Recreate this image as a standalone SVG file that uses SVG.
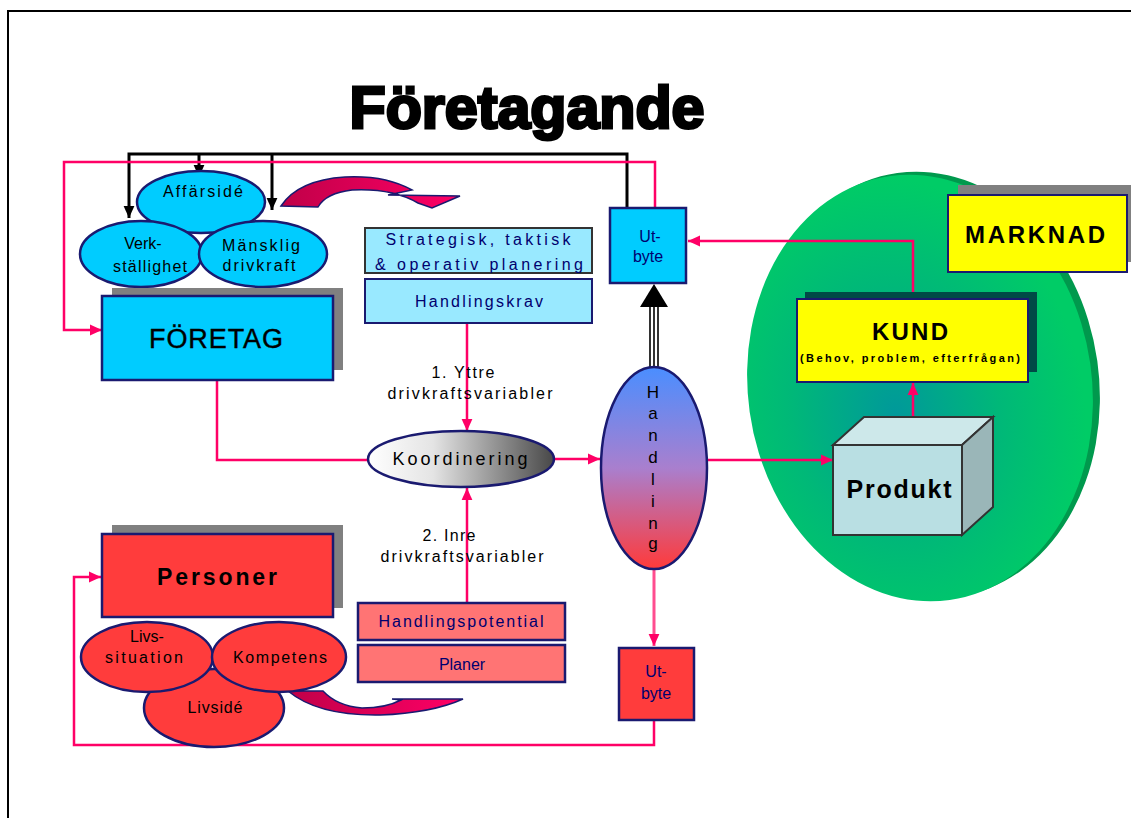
<svg xmlns="http://www.w3.org/2000/svg" width="1131" height="818" viewBox="0 0 1131 818">
<defs>
<style>
text{font-family:"Liberation Sans",Arial,sans-serif;text-anchor:middle}
.pk{fill:none;stroke:#ff0066;stroke-width:2.5}
.bk{fill:none;stroke:#000;stroke-width:3}
.nv{stroke:#1a1a70;stroke-width:2.5}
.blue{fill:#00ccff}
.lb{fill:#99e9ff}
.red{fill:#ff3c3c}
.sal{fill:#ff7474}
.sh{fill:#808080}
.bt{font-size:16px;fill:#000}
.nt{font-size:16px;fill:#00006e}
</style>
<marker id="ap" viewBox="0 0 10 10" refX="10" refY="5" markerWidth="12" markerHeight="12" markerUnits="userSpaceOnUse" orient="auto"><path d="M0,0.5 L10,5 L0,9.5 z" fill="#ff0066"/></marker>
<marker id="ab" viewBox="0 0 10 10" refX="10" refY="5" markerWidth="12" markerHeight="12" markerUnits="userSpaceOnUse" orient="auto"><path d="M0,0.5 L10,5 L0,9.5 z" fill="#000"/></marker>
<radialGradient id="gg" cx="0.42" cy="0.55" r="0.55"><stop offset="0" stop-color="#00999a"/><stop offset="0.55" stop-color="#00b878"/><stop offset="1" stop-color="#00cc66"/></radialGradient>
<linearGradient id="hg" x1="0" y1="0" x2="0" y2="1"><stop offset="0" stop-color="#4a8eff"/><stop offset="0.5" stop-color="#a97fce"/><stop offset="1" stop-color="#ff3a3a"/></linearGradient>
<linearGradient id="kg" x1="0" y1="0" x2="1" y2="0"><stop offset="0" stop-color="#ffffff"/><stop offset="0.35" stop-color="#e4e4e4"/><stop offset="1" stop-color="#484848"/></linearGradient>
<linearGradient id="cg" x1="0" y1="0" x2="1" y2="0"><stop offset="0" stop-color="#c00048"/><stop offset="1" stop-color="#ff0066"/></linearGradient>
</defs>
<rect width="1131" height="818" fill="#fff"/>
<path d="M8,818 V11 H1131" fill="none" stroke="#000" stroke-width="2"/>

<text x="527" y="128" font-size="60" font-weight="bold" stroke="#000" stroke-width="3" textLength="355" lengthAdjust="spacingAndGlyphs">Företagande</text>

<g id="marknad-omrade">
<ellipse cx="927" cy="385" rx="172" ry="214" fill="#00994d" transform="rotate(-8 927 385)"/>
<ellipse cx="920" cy="388" rx="172" ry="214" fill="url(#gg)" transform="rotate(-8 920 388)"/>
</g>

<g id="connectors">
<path class="bk" d="M627,208 V154 H129 V218" marker-end="url(#ab)"/>
<path class="bk" d="M272,154 V210" marker-end="url(#ab)"/>
<path class="bk" d="M199,154 V177" marker-end="url(#ab)"/>
<path class="pk" d="M655,208 V162 H64 V330 H102" marker-end="url(#ap)"/>
<path class="pk" d="M217,380 V460 H368"/>
<path class="pk" d="M555,459 H600" marker-end="url(#ap)"/>
<path class="pk" d="M467,323 V431" marker-end="url(#ap)"/>
<path class="pk" d="M467,603 V488" marker-end="url(#ap)"/>
<path class="pk" d="M707,460 H833" marker-end="url(#ap)"/>
<path class="pk" d="M913,433 V383" marker-end="url(#ap)"/>
<path class="pk" d="M913,299 V241 H688" marker-end="url(#ap)"/>
<path d="M654,570 V646" fill="none" stroke="#ff4d8f" stroke-width="3" marker-end="url(#ap)"/>
<path class="pk" d="M654,720 V745 H74 V577 H101" marker-end="url(#ap)"/>
<path d="M650,368 V306 M654,368 V306 M658,368 V306" stroke="#000" stroke-width="1.6" fill="none"/>
<path d="M654,284 L668,307 L640,307 z" fill="#000"/>
<path d="M281,206 Q298,180 345,177 Q385,175 412,190 L388,195 L460,196 L432,208 L418,203 Q392,188 352,190 Q326,193 318,207 Z" fill="url(#cg)" stroke="#1a1a70" stroke-width="1.5"/>
<path d="M288,691 L323,691 Q337,706 362,708 Q386,708 401,700 L392,699 L463,699 Q432,713 380,715 Q318,716 288,691 Z" fill="url(#cg)" stroke="#1a1a70" stroke-width="1.5"/>
</g>

<g id="affarside">
<ellipse cx="201" cy="202" rx="64" ry="31" class="blue nv"/>
<text class="bt" x="203" y="197" textLength="80">Affärsidé</text>
</g>
<g id="verkstallighet">
<ellipse cx="141" cy="254" rx="61" ry="33" class="blue nv"/>
<text class="bt" x="143" y="249">Verk-</text>
<text class="bt" x="150" y="272" textLength="74">ställighet</text>
</g>
<g id="mansklig-drivkraft">
<ellipse cx="263" cy="254" rx="64" ry="33" class="blue nv"/>
<text class="bt" x="261" y="251" textLength="78">Mänsklig</text>
<text class="bt" x="259" y="271" textLength="73">drivkraft</text>
</g>

<g id="foretag">
<rect x="112" y="288" width="231" height="82" class="sh"/>
<rect x="102" y="296" width="231" height="84" class="blue nv"/>
<text x="216" y="348" font-size="27" fill="#000" stroke="#000" stroke-width="0.4" textLength="134">FÖRETAG</text>
</g>

<g id="strategisk">
<rect x="365" y="228" width="227" height="45" class="lb" stroke="#333" stroke-width="2"/>
<text class="nt" x="478" y="245" font-size="18" textLength="185">Strategisk, taktisk</text>
<text class="nt" x="479" y="270" font-size="18" textLength="208">&amp; operativ planering</text>
</g>
<g id="handlingskrav">
<rect x="365" y="279" width="227" height="44" class="lb" stroke="#1a1a70" stroke-width="2"/>
<text class="nt" x="479" y="307" textLength="128">Handlingskrav</text>
</g>

<text class="bt" x="463" y="378" textLength="63">1. Yttre</text>
<text class="bt" x="470" y="399" textLength="165">drivkraftsvariabler</text>

<g id="koordinering">
<ellipse cx="461" cy="459" rx="93" ry="28" fill="url(#kg)" class="nv"/>
<text x="460" y="465" font-size="18" fill="#000" textLength="135">Koordinering</text>
</g>

<g id="utbyte-top">
<rect x="610" y="208" width="76" height="75" class="blue nv"/>
<text class="nt" x="650" y="242" font-size="15">Ut-</text>
<text class="nt" x="648" y="262" font-size="15">byte</text>
</g>

<g id="handling">
<ellipse cx="654" cy="468" rx="53" ry="101" fill="url(#hg)" class="nv"/>
<g font-size="17" fill="#000">
<text x="653" y="398">H</text>
<text x="653" y="419">a</text>
<text x="653" y="441">n</text>
<text x="653" y="463">d</text>
<text x="653" y="485">l</text>
<text x="653" y="507">i</text>
<text x="653" y="529">n</text>
<text x="653" y="549">g</text>
</g>
</g>

<g id="marknad">
<rect x="958" y="185" width="180" height="77" class="sh"/>
<rect x="948" y="195" width="179" height="77" fill="#ffff00" stroke="#1a1a70" stroke-width="2"/>
<text x="1035" y="243" font-size="24" font-weight="bold" fill="#000" textLength="140">MARKNAD</text>
</g>

<g id="kund">
<rect x="805" y="292" width="232" height="80" fill="#004a46"/>
<rect x="797" y="299" width="231" height="83" fill="#ffff00" stroke="#1a1a70" stroke-width="2"/>
<text x="910" y="340" font-size="24" font-weight="bold" fill="#000" textLength="76">KUND</text>
<text x="910" y="362" font-size="11" font-weight="bold" fill="#000" textLength="220">(Behov, problem, efterfrågan)</text>
</g>

<g id="produkt">
<path d="M833,445 L864,417 L993,417 L962,445 Z" fill="#cde8ea" stroke="#333" stroke-width="2"/>
<path d="M962,445 L993,417 L993,507 L962,535 Z" fill="#9ab6b8" stroke="#333" stroke-width="2"/>
<rect x="833" y="445" width="129" height="90" fill="#b9dfe3" stroke="#333" stroke-width="2"/>
<text x="899" y="498" font-size="25" font-weight="bold" fill="#000" textLength="105">Produkt</text>
</g>

<text class="bt" x="449" y="541" textLength="53">2. Inre</text>
<text class="bt" x="462" y="562" textLength="163">drivkraftsvariabler</text>

<g id="handlingspotential">
<rect x="358" y="603" width="207" height="37" class="sal nv"/>
<text class="nt" x="461" y="627" textLength="165">Handlingspotential</text>
</g>
<g id="planer">
<rect x="358" y="645" width="207" height="37" class="sal nv"/>
<text class="nt" x="462" y="670">Planer</text>
</g>

<g id="utbyte-bottom">
<rect x="619" y="648" width="75" height="72" class="red nv"/>
<text class="nt" x="656" y="677" font-size="15">Ut-</text>
<text class="nt" x="656" y="699" font-size="15">byte</text>
</g>

<g id="personer">
<rect x="112" y="525" width="231" height="83" class="sh"/>
<rect x="102" y="534" width="231" height="83" class="red nv"/>
<text x="217" y="585" font-size="23" font-weight="bold" fill="#000" textLength="120">Personer</text>
</g>

<g id="livside">
<ellipse cx="214" cy="708" rx="70" ry="39" class="red nv"/>
<text class="bt" x="215" y="713" textLength="55">Livsidé</text>
</g>
<g id="livssituation">
<ellipse cx="147" cy="657" rx="66" ry="35" class="red nv"/>
<text class="bt" x="147" y="642">Livs-</text>
<text class="bt" x="144" y="663" textLength="78">situation</text>
</g>
<g id="kompetens">
<ellipse cx="279" cy="657" rx="67" ry="35" class="red nv"/>
<text class="bt" x="280" y="663" textLength="94">Kompetens</text>
</g>
</svg>
